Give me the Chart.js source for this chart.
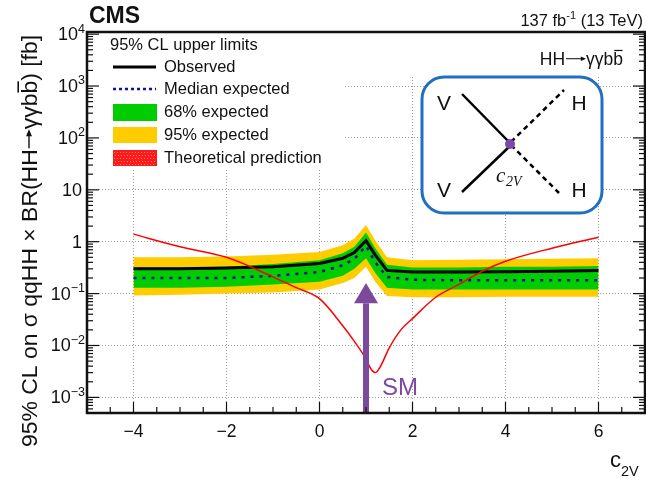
<!DOCTYPE html>
<html>
<head>
<meta charset="utf-8">
<script src="https://cdn.jsdelivr.net/npm/chart.js@4.4.0/dist/chart.umd.min.js"></script>
<style>
  html, body { margin: 0; padding: 0; background: #fff; }
  canvas { display: block; }
</style>
</head>
<body>
<canvas id="limitChart" width="646" height="483"></canvas>
<script>
// c2V scan points for the limit bands
const c2vPoints = [-4, -3, -2, -1, 0, 0.5, 0.75, 1, 1.2, 1.45, 2, 3, 4, 5, 6];
const observed  = [0.30, 0.30, 0.31, 0.33, 0.38, 0.48, 0.62, 1.05, 0.55, 0.28, 0.26, 0.26, 0.265, 0.27, 0.28];
const expMedian = [0.20, 0.20, 0.20, 0.22, 0.26, 0.35, 0.47, 0.83, 0.40, 0.21, 0.185, 0.18, 0.18, 0.18, 0.18];
const exp68Up   = [0.32, 0.32, 0.33, 0.37, 0.44, 0.60, 0.80, 1.50, 0.75, 0.36, 0.32, 0.32, 0.33, 0.33, 0.34];
const exp68Down = [0.13, 0.13, 0.135, 0.15, 0.17, 0.22, 0.30, 0.48, 0.25, 0.13, 0.12, 0.12, 0.12, 0.12, 0.12];
const exp95Up   = [0.50, 0.50, 0.52, 0.56, 0.63, 0.85, 1.15, 2.10, 1.05, 0.50, 0.44, 0.45, 0.46, 0.47, 0.48];
const exp95Down = [0.092, 0.095, 0.10, 0.105, 0.12, 0.16, 0.20, 0.33, 0.17, 0.09, 0.085, 0.085, 0.087, 0.087, 0.087];

// theoretical prediction
const c2vTheory = [-4, -3, -2, -1, -0.5, 0, 0.5, 0.75, 1, 1.1, 1.2, 1.3, 1.5, 1.75, 2, 2.5, 3, 3.5, 4, 5, 6];
const theory    = [1.4, 0.8, 0.5, 0.21, 0.13, 0.08, 0.024, 0.012, 0.0055, 0.0036, 0.003, 0.0038, 0.009, 0.02, 0.033, 0.085, 0.15, 0.27, 0.42, 0.75, 1.22];

const xTicks = [-4, -2, 0, 2, 4, 6];
const yDecades = [-3, -2, -1, 0, 1, 2, 3, 4];

const FONT = "'Liberation Sans', Arial, sans-serif";
const PURPLE = '#7b4a9f';

const pts = (xs, ys) => xs.map((x, i) => ({ x: x, y: ys[i] }));

function font(size, extra) {
  return (extra ? extra + ' ' : '') + size + 'px ' + FONT;
}

function line(ctx, x1, y1, x2, y2) {
  ctx.beginPath();
  ctx.moveTo(x1, y1);
  ctx.lineTo(x2, y2);
  ctx.stroke();
}

// pieces: strings, {arrow: len} or {bar: 'b'}; returns width, draws if draw is true
function rich(ctx, pieces, x, y, size, draw) {
  let cx = x;
  pieces.forEach(p => {
    if (typeof p === 'string') {
      if (draw) ctx.fillText(p, cx, y);
      cx += ctx.measureText(p).width;
    } else if (p.arrow) {
      if (draw) {
        const ay = y - size * 0.36;
        ctx.lineWidth = size * 0.06;
        line(ctx, cx + 1, ay, cx + p.arrow - 2, ay);
        ctx.beginPath();
        ctx.moveTo(cx + p.arrow, ay);
        ctx.lineTo(cx + p.arrow - size * 0.3, ay - size * 0.13);
        ctx.lineTo(cx + p.arrow - size * 0.3, ay + size * 0.13);
        ctx.closePath();
        ctx.fill();
      }
      cx += p.arrow;
    } else if (p.bar) {
      const wb = ctx.measureText(p.bar).width;
      if (draw) {
        ctx.fillText(p.bar, cx, y);
        ctx.lineWidth = size * 0.07;
        line(ctx, cx + 1, y - size * 0.83, cx + wb - 0.5, y - size * 0.83);
      }
      cx += wb;
    }
  });
  return cx - x;
}

const decor = {
  id: 'decor',
  afterDraw(chart) {
    const ctx = chart.ctx;
    const a = chart.chartArea;
    const xs = chart.scales.x, ys = chart.scales.y;
    ctx.save();

    // white areas of legend and process label
    ctx.fillStyle = '#fff';
    ctx.fillRect(a.left, a.top, 345 - a.left, 169 - a.top);
    ctx.fillRect(345, a.top, a.right - 345, 76 - a.top);

    // legend
    ctx.fillStyle = '#111';
    ctx.textBaseline = 'middle';
    ctx.font = font(16.5);
    ctx.fillText('95% CL upper limits', 110, 45);
    const rows = [
      { y: 67, text: 'Observed' },
      { y: 89, text: 'Median expected' },
      { y: 112, text: '68% expected' },
      { y: 135, text: '95% expected' },
      { y: 158, text: 'Theoretical prediction' }
    ];
    rows.forEach(r => { ctx.fillStyle = '#111'; ctx.fillText(r.text, 164, r.y); });
    ctx.strokeStyle = '#000';
    ctx.lineWidth = 3;
    line(ctx, 113, 67, 156, 67);
    ctx.strokeStyle = '#10109a';
    ctx.lineWidth = 2.5;
    ctx.setLineDash([3, 3]);
    line(ctx, 113, 89, 156, 89);
    ctx.setLineDash([]);
    ctx.fillStyle = '#00cc00';
    ctx.fillRect(113, 104, 44, 17);
    ctx.fillStyle = '#ffcc00';
    ctx.fillRect(113, 127, 44, 16);
    ctx.fillStyle = '#ff1a1a';
    ctx.fillRect(113, 150, 44, 16);
    ctx.fillStyle = '#ff8080';
    for (let yy = 152; yy < 165; yy += 3) {
      for (let xx = 114 + (yy % 2); xx < 156; xx += 3) ctx.fillRect(xx, yy, 1, 1);
    }

    // process label
    ctx.fillStyle = '#111';
    ctx.strokeStyle = '#111';
    ctx.textBaseline = 'alphabetic';
    ctx.font = font(17.5);
    const hhParts = ['HH', { arrow: 21 }, 'γγb', { bar: 'b' }];
    const hhW = rich(ctx, hhParts, 0, 0, 17.5, false);
    rich(ctx, hhParts, 623 - hhW, 65, 17.5, true);

    // VBF diagram inset
    ctx.beginPath();
    ctx.roundRect(422, 77, 180, 136, 22);
    ctx.fillStyle = '#fff';
    ctx.fill();
    ctx.strokeStyle = '#1f6fc4';
    ctx.lineWidth = 3;
    ctx.stroke();
    ctx.strokeStyle = '#000';
    ctx.lineWidth = 2.5;
    line(ctx, 462, 94, 510, 143);
    line(ctx, 462, 192, 510, 146);
    ctx.setLineDash([5, 4]);
    line(ctx, 511, 142, 564, 90);
    line(ctx, 511, 145, 559, 193);
    ctx.setLineDash([]);
    ctx.fillStyle = '#7a4aa8';
    ctx.beginPath();
    ctx.arc(510, 144, 5, 0, Math.PI * 2);
    ctx.fill();
    ctx.fillStyle = '#111';
    ctx.font = font(21);
    ctx.textBaseline = 'middle';
    ctx.textAlign = 'center';
    ctx.fillText('V', 444, 104);
    ctx.fillText('V', 444, 191);
    ctx.fillText('H', 579, 104);
    ctx.fillText('H', 579, 191);
    ctx.textAlign = 'left';
    ctx.textBaseline = 'alphabetic';
    ctx.font = "italic 21px 'Liberation Serif', 'DejaVu Serif', serif";
    ctx.fillText('c', 496, 182);
    ctx.font = "italic 14px 'Liberation Serif', 'DejaVu Serif', serif";
    ctx.fillText('2V', 506, 186);

    // SM arrow at c2V = 1
    const ax = xs.getPixelForValue(1);
    const tipY = ys.getPixelForValue(0.16);
    const baseY = ys.getPixelForValue(0.065);
    ctx.fillStyle = PURPLE;
    ctx.fillRect(ax - 3, baseY, 6, a.bottom - baseY);
    ctx.beginPath();
    ctx.moveTo(ax, tipY);
    ctx.lineTo(ax - 12, baseY);
    ctx.lineTo(ax + 12, baseY);
    ctx.closePath();
    ctx.fill();
    ctx.font = font(24);
    ctx.fillText('SM', 382, 395);

    // frame and ticks
    ctx.strokeStyle = '#111';
    ctx.lineWidth = 2.5;
    ctx.strokeRect(a.left, a.top, a.right - a.left, a.bottom - a.top);
    ctx.lineWidth = 1.2;
    for (let v = -5; v <= 7; v += 0.5) {
      const px = xs.getPixelForValue(v);
      const len = v % 2 === 0 ? 11 : 6;
      line(ctx, px, a.bottom, px, a.bottom - len);
    }
    for (let e = -4; e <= 4; e++) {
      for (let m = 1; m <= 9; m++) {
        const v = m * Math.pow(10, e);
        if (v < ys.min || v > ys.max) continue;
        const py = ys.getPixelForValue(v);
        const len = m === 1 ? 12 : 6;
        line(ctx, a.left, py, a.left + len, py);
        line(ctx, a.right, py, a.right - len, py);
      }
    }

    // y tick labels 10^n
    ctx.fillStyle = '#111';
    ctx.textBaseline = 'middle';
    ctx.textAlign = 'right';
    yDecades.forEach(e => {
      const py = ys.getPixelForValue(Math.pow(10, e));
      if (e === 0 || e === 1) {
        ctx.font = font(18);
        ctx.fillText(e === 0 ? '1' : '10', 82, py + 1);
        return;
      }
      const ex = (e < 0 ? '−' : '') + Math.abs(e);
      ctx.font = font(12.5);
      const ew = ctx.measureText(ex).width;
      ctx.fillText(ex, 85, py - 5);
      ctx.font = font(18);
      ctx.fillText('10', 85 - ew, py + 1);
    });

    // y axis title
    ctx.textAlign = 'left';
    ctx.textBaseline = 'alphabetic';
    const yParts = ['95% CL on σ qqHH × BR(HH', { arrow: 20 }, 'γγb', { bar: 'b' }, ') [fb]'];
    ctx.font = font(18);
    const w18 = rich(ctx, yParts, 0, 0, 18, false);
    const ts = 18 * 418 / w18;
    ctx.font = font(ts);
    const tw = rich(ctx, yParts, 0, 0, ts, false);
    ctx.translate(29, 241);
    ctx.rotate(-Math.PI / 2);
    rich(ctx, yParts, -tw / 2, ts * 0.36, ts, true);
    ctx.setTransform(1, 0, 0, 1, 0, 0);

    // x axis title c_2V
    ctx.font = font(22);
    ctx.fillText('c', 610, 467);
    ctx.font = font(14.5);
    ctx.fillText('2V', 621, 476);

    // CMS and luminosity
    ctx.font = font(23, 'bold');
    ctx.fillText('CMS', 89, 23);
    ctx.textAlign = 'right';
    ctx.font = font(16.5);
    const tail = ' (13 TeV)';
    ctx.fillText(tail, 643, 26);
    let rx = 643 - ctx.measureText(tail).width;
    ctx.font = font(11);
    ctx.fillText('-1', rx, 19);
    rx -= ctx.measureText('-1').width;
    ctx.font = font(16.5);
    ctx.fillText('137 fb', rx, 26);
    ctx.restore();
  }
};

new Chart(document.getElementById('limitChart'), {
  type: 'line',
  data: {
    datasets: [
      {
        label: 'Theoretical prediction',
        data: pts(c2vTheory, theory),
        borderColor: '#ff0000',
        borderWidth: 1.5,
        pointRadius: 0,
        fill: false,
        cubicInterpolationMode: 'monotone',
        order: 1
      },
      {
        label: 'Observed',
        data: pts(c2vPoints, observed),
        borderColor: '#000000',
        borderWidth: 3,
        pointRadius: 0,
        fill: false,
        order: 2
      },
      {
        label: 'Median expected',
        data: pts(c2vPoints, expMedian),
        borderColor: '#10109a',
        borderWidth: 2.5,
        borderDash: [3, 6],
        pointRadius: 0,
        fill: false,
        order: 3
      },
      {
        label: '68% expected',
        data: pts(c2vPoints, exp68Up),
        borderColor: 'rgba(0,0,0,0)',
        borderWidth: 0,
        backgroundColor: '#00cc00',
        pointRadius: 0,
        fill: '+1',
        order: 4
      },
      {
        label: '68% low',
        data: pts(c2vPoints, exp68Down),
        borderColor: 'rgba(0,0,0,0)',
        borderWidth: 0,
        pointRadius: 0,
        fill: false,
        order: 5
      },
      {
        label: '95% expected',
        data: pts(c2vPoints, exp95Up),
        borderColor: 'rgba(0,0,0,0)',
        borderWidth: 0,
        backgroundColor: '#ffcc00',
        pointRadius: 0,
        fill: '+1',
        order: 6
      },
      {
        label: '95% low',
        data: pts(c2vPoints, exp95Down),
        borderColor: 'rgba(0,0,0,0)',
        borderWidth: 0,
        pointRadius: 0,
        fill: false,
        order: 7
      }
    ]
  },
  options: {
    responsive: false,
    animation: false,
    devicePixelRatio: 1,
    layout: { padding: { top: 32, right: 1, left: 0, bottom: 0 } },
    scales: {
      x: {
        type: 'linear',
        min: -5,
        max: 7,
        afterBuildTicks: scale => { scale.ticks = xTicks.map(v => ({ value: v })); },
        afterFit: scale => { scale.height = 70; },
        ticks: {
          padding: 9,
          color: '#111',
          font: { family: FONT, size: 17.5 },
          callback: v => (v < 0 ? '−' + Math.abs(v) : String(v))
        },
        grid: { color: '#9a9a9a', lineWidth: 1, drawTicks: false },
        border: { display: false, dash: [1, 2] }
      },
      y: {
        type: 'logarithmic',
        min: 5e-4,
        max: 1.1e4,
        afterBuildTicks: scale => { scale.ticks = yDecades.map(e => ({ value: Math.pow(10, e) })); },
        afterFit: scale => { scale.width = 87; },
        ticks: { display: false },
        grid: { color: '#9a9a9a', lineWidth: 1, drawTicks: false },
        border: { display: false, dash: [1, 2] }
      }
    },
    plugins: {
      legend: { display: false },
      tooltip: { enabled: false }
    }
  },
  plugins: [decor]
});
</script>
</body>
</html>
